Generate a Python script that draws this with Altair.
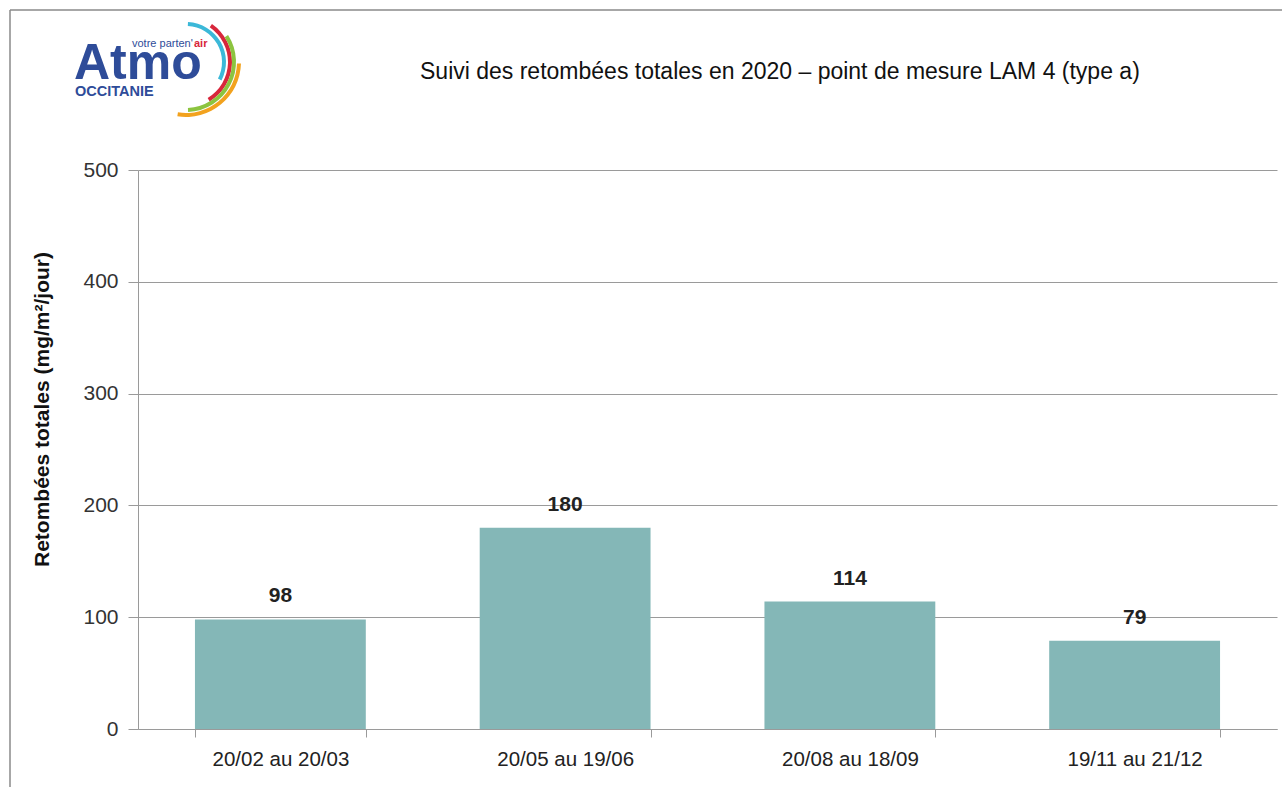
import altair as alt
import pandas as pd

periods = ["20/02 au 20/03", "20/05 au 19/06", "20/08 au 18/09", "19/11 au 21/12"]
values = [98, 180, 114, 79]
y_ticks = [0, 100, 200, 300, 400, 500]

title_text = "Suivi des retombées totales en 2020 – point de mesure LAM 4 (type a)"
y_title = "Retombées totales (mg/m²/jour)"

df = pd.DataFrame({"periode": periods, "valeur": values})
FONT = "Liberation Sans"
BAR = "#84B7B7"
GRID = "#9a9a9a"

x_enc = alt.X(
    "periode:N", sort=periods, title=None,
    scale=alt.Scale(paddingInner=0.4, paddingOuter=0.2),
    axis=alt.Axis(labelAngle=0, labelFont=FONT, labelFontSize=20.5, labelColor="#222222",
                  labelPadding=12, tickSize=8, tickColor=GRID, domainColor=GRID,
                  tickBand="extent", grid=False, labelLimit=300),
)
y_enc = alt.Y(
    "valeur:Q", title=y_title,
    scale=alt.Scale(domain=[0, 500], nice=False),
    axis=alt.Axis(values=y_ticks, labelFont=FONT, labelFontSize=21, labelColor="#333333",
                  labelPadding=10, tickSize=10, tickColor=GRID, domainColor=GRID,
                  gridColor=GRID, gridWidth=1, grid=True,
                  titleFont=FONT, titleFontSize=21, titleFontWeight="bold", titleColor="#111111",
                  titleAngle=-90, titleX=-96, titleY=239, titleAlign="center",
                  titleBaseline="middle"),
)

bars = alt.Chart(df).mark_bar(color=BAR).encode(x=x_enc, y=y_enc)
labels = alt.Chart(df).mark_text(
    font=FONT, fontSize=21, fontWeight="bold", color="#222222", dy=-17, baseline="alphabetic"
).encode(x=alt.X("periode:N", sort=periods), y="valeur:Q", text="valeur:Q")

one = alt.Data(values=[{"a": 1}])

title = alt.Chart(one).mark_text(
    text=title_text, font=FONT, fontSize=23, color="#111111", align="left", baseline="alphabetic"
).encode(x=alt.value(282), y=alt.value(-91))

# logo
atmo = alt.Chart(one).mark_text(
    text="Atmo", font=FONT, fontSize=50, fontWeight="bold", color="#2E4C99",
    align="left", baseline="alphabetic"
).encode(x=alt.value(-64), y=alt.value(-91))
occ = alt.Chart(one).mark_text(
    text="OCCITANIE", font=FONT, fontSize=14.5, fontWeight="bold", color="#2E4C99",
    align="left", baseline="alphabetic"
).encode(x=alt.value(-63), y=alt.value(-74))
votre = alt.Chart(one).mark_text(
    text="votre parten'", font=FONT, fontSize=11, color="#2E4C99",
    align="left", baseline="alphabetic"
).encode(x=alt.value(-6), y=alt.value(-123))
air = alt.Chart(one).mark_text(
    text="air", font=FONT, fontSize=11, fontWeight="bold", color="#D8263B",
    align="left", baseline="alphabetic"
).encode(x=alt.value(56), y=alt.value(-123))

arc_specs = [
    ("#3BB8D8", 40, 0.05, 2.05),
    ("#D8263B", 46, 0.6, 2.6),
    ("#8CC43F", 50, 1.0, 3.1),
    ("#F2A21E", 55, 1.6, 3.3),
]
arcs = []
for col, r, t1, t2 in arc_specs:
    arcs.append(
        alt.Chart(one).mark_arc(color=col).encode(
            x=alt.value(48), y=alt.value(-108),
            theta=alt.value(t1), theta2=alt.value(t2),
            radius=alt.value(r), radius2=alt.value(r - 4),
        )
    )

# outer frame
frame_left = alt.Chart(one).mark_rule(color="#8a8a8a", strokeWidth=1.5).encode(
    x=alt.value(-128), y=alt.value(-160), y2=alt.value(700))
frame_top = alt.Chart(one).mark_rule(color="#8a8a8a", strokeWidth=1.5).encode(
    x=alt.value(-128), x2=alt.value(1200), y=alt.value(-160))

chart = alt.layer(
    bars, labels, title, atmo, occ, votre, air, *arcs, frame_left, frame_top
).properties(
    width=1139, height=559,
    autosize=alt.AutoSizeParams(type="none"),
    padding={"left": 138, "top": 170, "right": 5, "bottom": 58},
    background="white",
).configure_view(stroke=None)

chart.save("out.html", embed_options={"renderer": "svg", "actions": False})
